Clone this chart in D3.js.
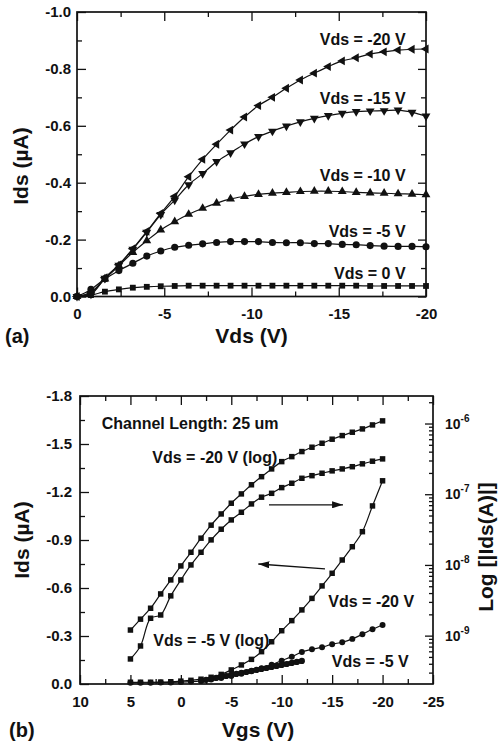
<!DOCTYPE html>
<html>
<head>
<meta charset="utf-8">
<script src="https://cdn.jsdelivr.net/npm/d3@7"></script>
<style>
  body { margin: 0; background: #fff; }
</style>
</head>
<body>
<div id="chart"></div>
<script>
// ---- panel (a): output curves ----
const vdsA = [0, -0.8, -1.6, -2.4, -3.2, -4, -4.8, -5.6, -6.4, -7.2, -8, -8.8, -9.6,
  -10.4, -11.2, -12, -12.8, -13.6, -14.4, -15.2, -16, -16.8, -17.6, -18.4, -19.2, -20];
const idsA20 = [0, -0.012, -0.066, -0.112, -0.168, -0.229, -0.292, -0.352, -0.421, -0.482, -0.535, -0.585, -0.631,
  -0.671, -0.700, -0.732, -0.761, -0.785, -0.808, -0.828, -0.839, -0.852, -0.860, -0.866, -0.869, -0.870];
const idsA15 = [0, -0.008, -0.064, -0.110, -0.166, -0.226, -0.288, -0.339, -0.393, -0.432, -0.474, -0.505, -0.536,
  -0.562, -0.581, -0.599, -0.614, -0.626, -0.636, -0.644, -0.650, -0.652, -0.653, -0.655, -0.647, -0.634];
const idsA10 = [0, -0.015, -0.062, -0.108, -0.155, -0.196, -0.234, -0.263, -0.289, -0.310, -0.328, -0.343, -0.352,
  -0.359, -0.363, -0.366, -0.369, -0.370, -0.370, -0.369, -0.366, -0.364, -0.363, -0.361, -0.360, -0.358];
const idsA5 = [0, -0.025, -0.062, -0.091, -0.117, -0.142, -0.160, -0.173, -0.180, -0.185, -0.190, -0.193, -0.193,
  -0.193, -0.190, -0.189, -0.189, -0.186, -0.186, -0.183, -0.182, -0.179, -0.177, -0.176, -0.176, -0.175];
const idsA0 = [0, -0.005, -0.017, -0.025, -0.031, -0.034, -0.036, -0.037, -0.038, -0.038, -0.038, -0.038, -0.038,
  -0.038, -0.038, -0.038, -0.038, -0.038, -0.038, -0.038, -0.038, -0.037, -0.037, -0.037, -0.037, -0.037];

const labelsA = ["Vds = -20 V", "Vds = -15 V", "Vds = -10 V", "Vds = -5 V", "Vds = 0 V"];
const labelYA = [-0.885, -0.676, -0.407, -0.21, -0.061];

const xTicksA = [0, -5, -10, -15, -20];
const xTickLabelsA = ["0", "-5", "-10", "-15", "-20"];
const xMinorA = [-2.5, -7.5, -12.5, -17.5];
const yTicksA = [0, -0.2, -0.4, -0.6, -0.8, -1.0];
const yTickLabelsA = ["0.0", "-0.2", "-0.4", "-0.6", "-0.8", "-1.0"];
const yMinorA = [-0.1, -0.3, -0.5, -0.7, -0.9];

// ---- panel (b): transfer curves ----
const vgsB = [5, 4, 3, 2, 1, 0, -1, -2, -3, -4, -5, -6, -7, -8, -9, -10,
  -11, -12, -13, -14, -15, -16, -17, -18, -19, -20];
const linIds20 = [-0.011, -0.011, -0.011, -0.012, -0.014, -0.018, -0.023, -0.030, -0.042, -0.060, -0.088, -0.119, -0.154,
  -0.202, -0.264, -0.333, -0.396, -0.463, -0.535, -0.613, -0.692, -0.775, -0.858, -0.952, -1.113, -1.270];
const linIds5 = [-0.008, -0.008, -0.008, -0.009, -0.010, -0.012, -0.015, -0.020, -0.028, -0.038, -0.050, -0.064, -0.080,
  -0.098, -0.120, -0.146, -0.171, -0.200, -0.217, -0.230, -0.249, -0.261, -0.282, -0.311, -0.342, -0.369];
const logIds20 = [1.20e-9, 1.71e-9, 2.44e-9, 3.89e-9, 6.14e-9, 9.68e-9, 1.51e-8, 2.39e-8, 3.65e-8, 5.26e-8, 7.46e-8,
  1.01e-7, 1.36e-7, 1.77e-7, 2.28e-7, 2.89e-7, 3.40e-7, 4.01e-7, 4.62e-7, 5.26e-7, 6.00e-7, 6.75e-7, 7.53e-7,
  8.39e-7, 9.55e-7, 1.09e-6];
const logIds5 = [4.68e-10, 7.14e-10, 1.76e-9, 1.96e-9, 3.65e-9, 6.14e-9, 1.00e-8, 1.51e-8, 2.26e-8, 3.20e-8, 4.33e-8,
  5.56e-8, 7.29e-8, 9.08e-8, 1.03e-7, 1.24e-7, 1.43e-7, 1.68e-7, 1.83e-7, 1.98e-7, 2.14e-7, 2.28e-7, 2.45e-7,
  2.69e-7, 2.93e-7, 3.16e-7];
// densely sampled -5 V sweep (shows as a thick line)
const denseVgs = [-2, -2.5, -3, -3.5, -4, -4.5, -5, -5.5, -6, -6.5, -7, -7.5, -8, -8.5, -9, -9.5, -10, -10.5, -11, -11.5, -12];
const denseIds = [-0.020, -0.026, -0.032, -0.038, -0.044, -0.050, -0.057, -0.063, -0.069, -0.075, -0.082, -0.088, -0.094,
  -0.100, -0.107, -0.113, -0.119, -0.125, -0.132, -0.138, -0.144];

const labelsB = ["Channel Length: 25 um", "Vds = -20 V (log)", "Vds = -5 V (log)", "Vds = -20 V", "Vds = -5 V"];
const labelVB = [7.85, 2.83, 2.73, -14.62, -14.96];
const labelIB = [-1.594, -1.381, -0.239, -0.4825, -0.109];
const arrowsB = [[-8.74, -1.12, -16.08, -1.12], [-14.29, -0.719, -7.68, -0.75]];

const xTicksB = [10, 5, 0, -5, -10, -15, -20, -25];
const xTickLabelsB = ["10", "5", "0", "-5", "-10", "-15", "-20", "-25"];
const xMinorB = [7.5, 2.5, -2.5, -7.5, -12.5, -17.5, -22.5];
const yTicksB = [0, -0.3, -0.6, -0.9, -1.2, -1.5, -1.8];
const yTickLabelsB = ["0.0", "-0.3", "-0.6", "-0.9", "-1.2", "-1.5", "-1.8"];
const yMinorB = [-0.15, -0.45, -0.75, -1.05, -1.35, -1.65];
const logMajorB = [1e-9, 1e-8, 1e-7, 1e-6];
const logExpB = ["-9", "-8", "-7", "-6"];

const FONT = '"Liberation Sans", Arial, Helvetica, sans-serif';
const INK = "#111";

const svg = d3.select("#chart").append("svg")
  .attr("width", 499)
  .attr("height", 744)
  .style("font-family", FONT)
  .style("font-weight", "bold");

svg.append("defs").append("marker")
  .attr("id", "head")
  .attr("viewBox", "0 0 11 7")
  .attr("refX", 11).attr("refY", 3.5)
  .attr("markerWidth", 11).attr("markerHeight", 7)
  .attr("markerUnits", "userSpaceOnUse")
  .attr("orient", "auto")
  .append("path").attr("d", "M0,0L11,3.5L0,7Z").attr("fill", INK);

const xA = d3.scaleLinear().domain([0, -20]).range([77, 426]);
const yA = d3.scaleLinear().domain([0, -1.0]).range([296.5, 12]);
const xB = d3.scaleLinear().domain([10, -25]).range([80, 433]);
const yB = d3.scaleLinear().domain([0, -1.8]).range([684, 396]);
const yLog = d3.scaleLog().domain([2.07e-10, 2.45e-6]).range([684, 396]);

function addAxis(axis, tx, ty, fontSize) {
  const g = svg.append("g").attr("transform", "translate(" + tx + "," + ty + ")").call(axis);
  g.select(".domain").remove();
  g.selectAll("line").attr("stroke", INK).attr("stroke-width", 1.3);
  g.selectAll("text")
    .attr("font-size", fontSize || 15)
    .attr("font-family", FONT)
    .attr("font-weight", "bold")
    .attr("fill", INK);
  return g;
}

function box(x, y, c) {
  const [x0, x1] = x.range(), [y0, y1] = y.range();
  addAxis(d3.axisBottom(x).tickValues(c.xMajor).tickSize(-9).tickPadding(12)
    .tickFormat((d, i) => c.xLabels[i]), 0, y0);
  addAxis(d3.axisBottom(x).tickValues(c.xMinor).tickSize(-5).tickFormat(""), 0, y0);
  addAxis(d3.axisTop(x).tickValues(c.xMajor).tickSize(-9).tickFormat(""), 0, y1);
  addAxis(d3.axisTop(x).tickValues(c.xMinor).tickSize(-5).tickFormat(""), 0, y1);
  addAxis(d3.axisLeft(y).tickValues(c.yMajor).tickSize(-9).tickPadding(c.padY)
    .tickFormat((d, i) => c.yLabels[i]), x0, 0);
  addAxis(d3.axisLeft(y).tickValues(c.yMinor).tickSize(-5).tickFormat(""), x0, 0);
  svg.append("rect")
    .attr("x", x0).attr("y", y1)
    .attr("width", x1 - x0).attr("height", y0 - y1)
    .attr("fill", "none").attr("stroke", INK).attr("stroke-width", 1.7);
}

function series(x, y, xs, ys, shape, opt) {
  const pts = xs.map((v, i) => [x(v), y(ys[i])]);
  svg.append("path")
    .attr("d", d3.line().curve(d3.curveCatmullRom.alpha(0.5))(pts))
    .attr("fill", "none").attr("stroke", INK)
    .attr("stroke-width", opt.lw || 1.2);
  svg.append("g").selectAll("path")
    .data(pts)
    .enter()
    .append("path")
      .attr("d", d3.symbol().type(shape).size(opt.size))
      .attr("transform", d => "translate(" + d[0] + "," + d[1] + ") rotate(" + (opt.rot || 0) + ")")
      .attr("fill", INK);
}

// ===== panel (a) =====
box(xA, yA, {
  xMajor: xTicksA, xMinor: xMinorA, xLabels: xTickLabelsA,
  yMajor: yTicksA, yMinor: yMinorA, yLabels: yTickLabelsA, padY: 6
});
addAxis(d3.axisRight(yA).tickValues(yTicksA).tickSize(-8).tickFormat(""), 426, 0);
addAxis(d3.axisRight(yA).tickValues(yMinorA).tickSize(-5).tickFormat(""), 426, 0);

series(xA, yA, vdsA, idsA0, d3.symbolSquare, { size: 34 });
series(xA, yA, vdsA, idsA5, d3.symbolCircle, { size: 40 });
series(xA, yA, vdsA, idsA10, d3.symbolTriangle, { size: 34 });
series(xA, yA, vdsA, idsA15, d3.symbolTriangle, { size: 34, rot: 180 });
series(xA, yA, vdsA, idsA20, d3.symbolTriangle, { size: 34, rot: -90 });

svg.append("g").selectAll("text")
  .data(labelsA)
  .enter()
  .append("text")
    .attr("x", xA(-18.83))
    .attr("y", (d, i) => yA(labelYA[i]))
    .attr("text-anchor", "end")
    .attr("font-size", 16)
    .attr("fill", INK)
    .text(d => d);

svg.append("text").attr("x", 251.5).attr("y", 343).attr("text-anchor", "middle")
  .attr("font-size", 21).attr("fill", INK).text("Vds (V)");
svg.append("text").attr("x", 5).attr("y", 343)
  .attr("font-size", 20).attr("fill", INK).text("(a)");
svg.append("text").attr("transform", "translate(28,166) rotate(-90)").attr("text-anchor", "middle")
  .attr("font-size", 21).attr("fill", INK).text("Ids (\u00B5A)");

// ===== panel (b) =====
box(xB, yB, {
  xMajor: xTicksB, xMinor: xMinorB, xLabels: xTickLabelsB,
  yMajor: yTicksB, yMinor: yMinorB, yLabels: yTickLabelsB, padY: 8
});
// right log axis, ticks only, labels drawn below
const logMinorB = [];
[-10, -9, -8, -7, -6].forEach(k => {
  for (let m = 2; m <= 9; m++) {
    const v = m * Math.pow(10, k);
    if (v > 2.07e-10 && v < 2.45e-6) logMinorB.push(v);
  }
});
addAxis(d3.axisRight(yLog).tickValues(logMajorB).tickSize(-8).tickFormat(""), 433, 0);
addAxis(d3.axisRight(yLog).tickValues(logMinorB).tickSize(-4).tickFormat(""), 433, 0);

const logLab = svg.append("g").selectAll("text")
  .data(logMajorB)
  .enter()
  .append("text")
    .attr("x", 445)
    .attr("y", d => yLog(d) + 5)
    .attr("font-size", 14)
    .attr("fill", INK);
logLab.append("tspan").text("10");
logLab.append("tspan").attr("dy", -7).attr("font-size", 10).text((d, i) => logExpB[i]);

series(xB, yLog, vgsB, logIds20, d3.symbolSquare, { size: 30 });
series(xB, yLog, vgsB, logIds5, d3.symbolSquare, { size: 30 });
series(xB, yB, vgsB, linIds20, d3.symbolSquare, { size: 30 });
series(xB, yB, vgsB, linIds5, d3.symbolCircle, { size: 28 });
series(xB, yB, denseVgs, denseIds, d3.symbolCircle, { size: 30, lw: 4.5 });

svg.append("g").selectAll("line")
  .data(arrowsB)
  .enter()
  .append("line")
    .attr("x1", d => xB(d[0])).attr("y1", d => yB(d[1]))
    .attr("x2", d => xB(d[2])).attr("y2", d => yB(d[3]))
    .attr("stroke", INK).attr("stroke-width", 1.3)
    .attr("marker-end", "url(#head)");

svg.append("g").selectAll("text")
  .data(labelsB)
  .enter()
  .append("text")
    .attr("x", (d, i) => xB(labelVB[i]))
    .attr("y", (d, i) => yB(labelIB[i]))
    .attr("font-size", 16)
    .attr("fill", INK)
    .text(d => d);

svg.append("text").attr("x", 258).attr("y", 737).attr("text-anchor", "middle")
  .attr("font-size", 21).attr("fill", INK).text("Vgs (V)");
svg.append("text").attr("x", 9).attr("y", 737)
  .attr("font-size", 20).attr("fill", INK).text("(b)");
svg.append("text").attr("transform", "translate(29,540) rotate(-90)").attr("text-anchor", "middle")
  .attr("font-size", 21).attr("fill", INK).text("Ids (\u00B5A)");
svg.append("text").attr("transform", "translate(493,547) rotate(-90)").attr("text-anchor", "middle")
  .attr("font-size", 21).attr("fill", INK).text("Log [|Ids(A)|]");
</script>
</body>
</html>
